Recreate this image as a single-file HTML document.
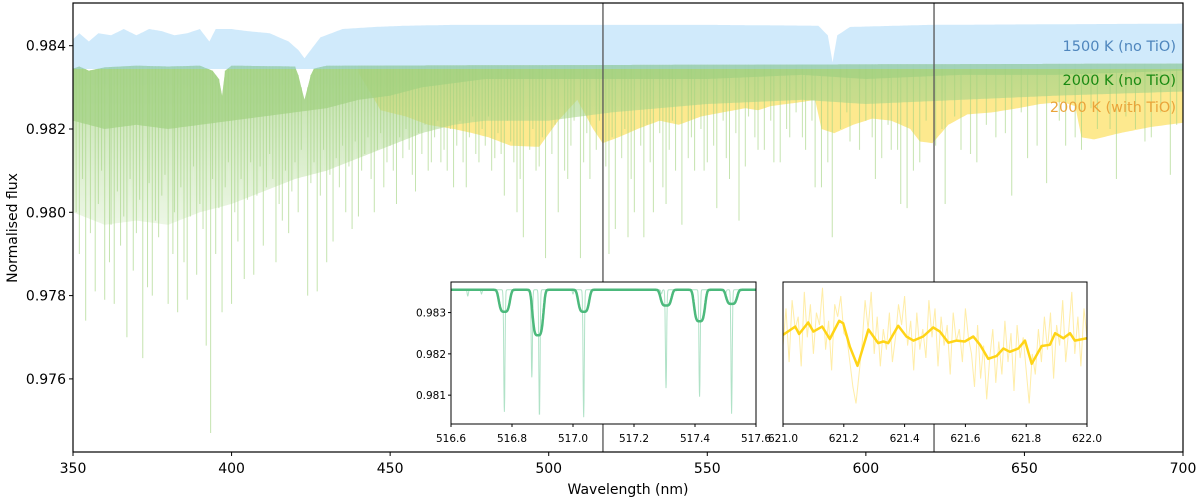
<!DOCTYPE html>
<html><head><meta charset="utf-8"><style>
html,body{margin:0;padding:0;background:#fff;}
svg{display:block;font-family:"DejaVu Sans","Liberation Sans",sans-serif;}
</style></head><body>
<svg id="chart" width="1200" height="499" viewBox="0 0 1200 499" xmlns="http://www.w3.org/2000/svg">
<defs>
<clipPath id="mainclip"><rect x="73" y="3" width="1110" height="449"/></clipPath>
<clipPath id="lclip"><rect x="451" y="282" width="305" height="142"/></clipPath>
<clipPath id="rclip"><rect x="783" y="282" width="304" height="142"/></clipPath>
<linearGradient id="lightgrad" x1="0" y1="0" x2="0" y2="1">
<stop offset="0" stop-color="rgb(168,212,136)" stop-opacity="0.75"/>
<stop offset="1" stop-color="rgb(180,220,150)" stop-opacity="0.25"/>
</linearGradient>
</defs>
<rect x="0" y="0" width="1200" height="499" fill="#fff"/>
<g id="main" clip-path="url(#mainclip)"></g>
<g id="vlines"></g>
<rect x="73" y="3" width="1110" height="449" fill="none" stroke="#000" stroke-width="1.2"/>
<g id="axes"></g>
<text x="0" y="0" transform="translate(17,228) rotate(-90)" text-anchor="middle" font-size="14">Normalised flux</text>
<text x="628" y="494" text-anchor="middle" font-size="14">Wavelength (nm)</text>
<text x="1176" y="51" text-anchor="end" font-size="14.5" fill="#4f86bd">1500 K (no TiO)</text>
<text x="1176" y="85" text-anchor="end" font-size="14.5" fill="#1a8a12">2000 K (no TiO)</text>
<text x="1176" y="112" text-anchor="end" font-size="14.5" fill="#eaa43a">2000 K (with TiO)</text>
<g id="linset"></g>
<g id="rinset"></g>
</svg>
<script>
// ---- main chart data ----
const wlBlue=[350,352,355,358,362,366,370,374,378,382,386,390,393,395,400,405,412,418,421,423,425,428,435,445,455,470,500,550,585,588,589.5,591,595,620,700];
const fBlue=[.98415,.9843,.9841,.9843,.98425,.9844,.98425,.9844,.98435,.98425,.9843,.9844,.9841,.9844,.9844,.98435,.9843,.9841,.9839,.9837,.9839,.9842,.9844,.98445,.98448,.9845,.9845,.9845,.98448,.98425,.9836,.98425,.98445,.9845,.98453];
const wlCont=[350,352,355,360,370,380,390,394,396,397,398,400,420,421,423,425,426,430,700];
const fCont=[.98345,.9835,.9834,.98348,.98352,.9835,.98352,.9834,.9832,.9828,.9834,.98352,.9835,.9833,.9827,.9833,.98345,.98352,.98357];
const wlG=[350,360,370,380,390,400,410,420,430,440,450,460,470,480,500,520,550,580,600,630,660,700];
const gDark=[.9822,.9820,.9821,.9820,.9821,.9822,.9823,.9824,.9825,.9827,.9828,.9830,.9831,.9832,.9832,.9832,.9832,.9833,.9832,.9833,.9833,.9834];
const gLight=[.9800,.9797,.9798,.9797,.9800,.9802,.9805,.9808,.9810,.9813,.9816,.9819,.9821,.9822,.9822,.9824,.9826,.9827,.9826,.9827,.9828,.9829];
const wlY=[440,447,455,462,470,476,481,488,497,503,509,514,517,522,528,535,541,548,555,562,566,570,575,580,584,586,590,596,602,608,614,617,621,626,632,640,648,655,662,666,668,672,680,690,700];
const fY=[.98335,.98245,.9823,.9821,.9820,.9819,.9818,.9816,.98157,.9822,.9827,.9820,.98166,.9818,.9820,.9822,.9821,.9823,.9824,.9825,.98245,.98255,.9826,.98265,.9827,.9820,.9819,.9821,.98225,.9822,.9820,.9817,.98166,.9821,.98235,.9824,.9825,.9826,.98265,.98255,.9818,.98175,.9819,.98205,.98215];
const lineWl=[352,354,357,360,361.5,363,365,367,369,372,373.5,375,377,380,381.5,383,385,386,389,392,393.4,395,397,400,402,404,407,410,414,416,418,421,424,427,430,432,436,438,440,445,448,452,458,462,466,470,474,478,483,486,490,492,496,499,503,506,510,513,519,521,525,527,530,533,537,540,542,546,550,553,557,560,566,571,576,581,584,586,589.4,595,603,608,611,613,617,625,630,635,641,646,651,657,663,668,673,679,685,690,696];
const lineDepth=[.9790,.9774,.9781,.9779,.9788,.9778,.9792,.9770,.9786,.9765,.9782,.9780,.9794,.9778,.9790,.9776,.9788,.9779,.9785,.9768,.9747,.9790,.9776,.9778,.9793,.9784,.9785,.9792,.9788,.9798,.9795,.9800,.9780,.9781,.9788,.9793,.9800,.9796,.9799,.9800,.9806,.9802,.9805,.9810,.9812,.9806,.9806,.9812,.9813,.9804,.9800,.9794,.9810,.9789,.9800,.9808,.9789,.9808,.9790,.9796,.9794,.9800,.9794,.9800,.9802,.9810,.9797,.9810,.9812,.9801,.9808,.9798,.9815,.9812,.9818,.9815,.9806,.9806,.9794,.9817,.9808,.9815,.9802,.9801,.9812,.9802,.9815,.9812,.9818,.9804,.9813,.9807,.9816,.9815,.9820,.9808,.9820,.9818,.9809];
const modWl=[351,353,355.5,358,359,362,364,366,368,370,371,374,376,378,379,382,384,387,388,390,391,394,396,398,399,401,403,405,406,408,409,411,412,413,415,417,419,420,422,425,426,428,429,431,433,434,435,437,439,441,442,443,444,446,447,449,450,451,453,454,455,456,457,459,460,461,463,464,465,467,468,469,471,472,473,475,476,477,479,480,481,482,484,485,487,488,489,491,494,495,497,498,501,502,505,507,508,511,512,515,516,518,520,523,524,526,529,531,532,535,536,538,539,544,545,548,549,552,555,556,559,562,563,565,568,570,573,575,578,580,583,588,592,594,598,600,602,605,607,610,615,619,622,624,628,633,638,644,649,654,661,666,671,677,682,688,693,698];
const modDepth=[.9800,.9808,.9795,.9802,.9810,.9797,.9805,.9799,.9808,.9795,.9803,.9807,.9798,.9804,.9809,.9800,.9806,.9799,.9811,.9802,.9796,.9808,.9801,.9806,.9812,.9800,.9808,.9803,.9812,.9804,.9811,.9806,.9814,.9808,.9802,.9810,.9805,.9812,.9815,.9807,.9812,.9804,.9815,.9809,.9813,.9806,.9816,.9811,.9817,.9810,.9814,.9818,.9808,.9815,.9819,.9812,.9816,.9810,.9818,.9813,.9820,.9815,.9809,.9819,.9814,.9821,.9812,.9818,.9822,.9815,.9810,.9820,.9816,.9822,.9812,.9818,.9823,.9814,.9820,.9816,.9823,.9810,.9819,.9814,.9822,.9817,.9812,.9808,.9815,.9820,.9811,.9818,.9814,.9821,.9810,.9816,.9822,.9812,.9819,.9815,.9822,.9811,.9818,.9813,.9820,.9808,.9816,.9821,.9812,.9819,.9806,.9815,.9822,.9813,.9818,.9820,.9810,.9816,.9822,.9813,.9819,.9811,.9823,.9818,.9815,.9822,.9812,.9820,.9824,.9818,.9822,.9812,.9820,.9824,.9815,.9822,.9818,.9813,.9821,.9815,.9810,.9822,.9816,.9820,.9823,.9814,.9821,.9819,.9824,.9816,.9822,.9818,.9825,.9820,.9823,.9817,.9824,.9821];
const xTicks=[350,400,450,500,550,600,650,700];
const yTicks=[0.976,0.978,0.980,0.982,0.984];
const markerWl=[517.1,621.5];
// ---- left inset data ----
const lxTicks=[516.6,516.8,517.0,517.2,517.4,517.6];
const lyTicks=[0.981,0.982,0.983];
const sharpC=[516.655,516.70,516.775,516.865,516.89,517.0,517.035,517.29,517.305,517.415,517.50,517.52];
const sharpD=[.00015,.0001,.00297,.00213,.00307,.0001,.00310,.0001,.00239,.00260,.0001,.00300];
const broadC=[516.775,516.885,517.035,517.305,517.415,517.52];
const broadD=[.00053,.0011,.00053,.00038,.00076,.00034];
const lCont=0.98355;
// ---- right inset data ----
const rxTicks=[621.0,621.2,621.4,621.6,621.8,622.0];
const smWl=[621.0,621.04,621.053,621.083,621.1,621.129,621.154,621.185,621.198,621.22,621.245,621.281,621.313,621.33,621.346,621.379,621.406,621.429,621.461,621.494,621.516,621.544,621.571,621.598,621.626,621.648,621.675,621.703,621.725,621.746,621.774,621.796,621.818,621.851,621.878,621.895,621.922,621.944,621.96,622.0];
const smF=[.98246,.98266,.98248,.98276,.98254,.98266,.98236,.9828,.98274,.98217,.98171,.98259,.98226,.9823,.98226,.98268,.98242,.98232,.98242,.98264,.98254,.98227,.98232,.9823,.98242,.98222,.98188,.98195,.98213,.98205,.98213,.98232,.98176,.98219,.98222,.98250,.98238,.98250,.98232,.98238];
const rawF=[.9822,.9831,.9818,.9833,.9826,.9829,.9817,.9835,.9824,.9832,.9820,.9830,.9827,.9836,.9821,.9828,.9816,.9832,.9829,.9834,.9825,.9824,.9818,.9812,.9808,.9815,.9822,.9833,.9826,.9835,.9820,.9829,.9817,.9826,.9821,.9830,.9818,.9824,.9832,.9827,.9834,.9822,.9828,.9816,.9830,.9821,.9826,.9819,.9833,.9824,.9831,.9817,.9829,.9822,.9827,.9815,.9830,.9823,.9826,.9818,.9831,.9824,.9820,.9812,.9827,.9814,.9822,.9809,.9819,.9826,.9813,.9823,.9815,.9828,.9818,.9825,.9811,.9827,.9819,.9824,.9816,.9808,.9820,.9815,.9826,.9818,.9829,.9821,.9830,.9814,.9827,.9822,.9833,.9818,.9826,.9835,.9820,.9829,.9817,.9831,.9824];

const NS="http://www.w3.org/2000/svg";
function mk(tag,attrs,parent){const e=document.createElementNS(NS,tag);for(const k in attrs)e.setAttribute(k,attrs[k]);parent.appendChild(e);return e;}
const X=w=>73+(w-350)*(1110/350);
const Y=f=>45.7+(0.984-f)*41650;
function interp(xs,ys,x){if(x<=xs[0])return ys[0];for(let i=1;i<xs.length;i++){if(x<=xs[i]){const t=(x-xs[i-1])/(xs[i]-xs[i-1]);return ys[i-1]+t*(ys[i]-ys[i-1]);}}return ys[ys.length-1];}
const cont=w=>interp(wlCont,fCont,w);

const main=document.getElementById('main');
function band(topFn,botFn,w0,w1,fill,name){let top=[],bot=[];for(let w=w0;w<=w1+1e-9;w+=0.5){top.push(X(w).toFixed(1)+','+Y(topFn(w)).toFixed(1));bot.unshift(X(w).toFixed(1)+','+Y(botFn(w)).toFixed(1));}
const p=mk('polygon',{points:top.concat(bot).join(' '),fill:fill},main);

return p;}
// yellow
band(cont,w=>Math.min(cont(w),interp(wlY,fY,w)),440,700,'#fde98e','tio-band-fill');
// green light & dark
band(cont,w=>interp(wlG,gLight,w),350,700,'url(#lightgrad)','green-light-fill');
band(cont,w=>interp(wlG,gDark,w),350,700,'rgba(160,208,128,0.7)','green-dense-fill');
// spikes
function spikes(ws,ds,col,sw,name){for(let i=0;i<ws.length;i++){const l=mk('line',{x1:X(ws[i]),x2:X(ws[i]),y1:Y(cont(ws[i])),y2:Y(ds[i]),stroke:col,'stroke-width':sw},main);

}}
spikes(modWl,modDepth,'rgba(160,210,125,0.55)',1.1,'absorption-line');
spikes(lineWl,lineDepth,'rgba(165,212,130,0.65)',1,'absorption-line-deep');
// blue
band(w=>interp(wlBlue,fBlue,w),w=>0.98344,350,700,'rgba(150,208,246,0.45)','blue-1500k-fill');

// vertical markers
const vl=document.getElementById('vlines');
markerWl.forEach(w=>{const l=mk('line',{x1:X(w),x2:X(w),y1:3,y2:452,stroke:'rgba(90,90,90,0.75)','stroke-width':1.8},vl);

});

// axes ticks
const ax=document.getElementById('axes');
xTicks.forEach(t=>{mk('line',{x1:X(t),x2:X(t),y1:452,y2:456,stroke:'#000'},ax);
const tx=mk('text',{x:X(t),y:473,'text-anchor':'middle','font-size':14},ax);tx.textContent=t;

});
yTicks.forEach(t=>{mk('line',{x1:69,x2:73,y1:Y(t),y2:Y(t),stroke:'#000'},ax);
const tx=mk('text',{x:66,y:Y(t)+5,'text-anchor':'end','font-size':14},ax);tx.textContent=t.toFixed(3);

});

// ---- left inset ----
const li=document.getElementById('linset');
const LX=w=>451+(w-516.6)*305;
const IY=f=>282+(0.98374-f)*41300;
mk('rect',{x:451,y:282,width:305,height:142,fill:'#fff'},li);
const lg=mk('g',{'clip-path':'url(#lclip)'},li);
let sp=[],bp=[];
for(let w=516.6;w<=517.6001;w+=0.0008){let fs=lCont,fb=lCont;
for(let i=0;i<sharpC.length;i++)fs-=sharpD[i]*Math.exp(-Math.pow((w-sharpC[i])/0.0028,2));
for(let i=0;i<broadC.length;i++)fb-=broadD[i]*Math.exp(-Math.pow((w-broadC[i])/0.02,4));
sp.push(LX(w).toFixed(1)+','+IY(fs).toFixed(1));bp.push(LX(w).toFixed(1)+','+IY(fb).toFixed(1));}
const lsh=mk('polyline',{points:sp.join(' '),fill:'none',stroke:'rgba(80,190,130,0.45)','stroke-width':1},lg);


const lsm=mk('polyline',{points:bp.join(' '),fill:'none',stroke:'#4cb97c','stroke-width':2.5},lg);


mk('rect',{x:451,y:282,width:305,height:142,fill:'none',stroke:'#000','stroke-width':1},li);
lxTicks.forEach(t=>{mk('line',{x1:LX(t),x2:LX(t),y1:424,y2:427,stroke:'#000'},li);
const tx=mk('text',{x:LX(t),y:442,'text-anchor':'middle','font-size':10.5},li);tx.textContent=t.toFixed(1);

});
lyTicks.forEach(t=>{mk('line',{x1:448,x2:451,y1:IY(t),y2:IY(t),stroke:'#000'},li);
const tx=mk('text',{x:446,y:IY(t)+4,'text-anchor':'end','font-size':10.5},li);tx.textContent=t.toFixed(3);

});

// ---- right inset ----
const ri=document.getElementById('rinset');
const RX=w=>783+(w-621)*304;
mk('rect',{x:783,y:282,width:304,height:142,fill:'#fff'},ri);
const rg=mk('g',{'clip-path':'url(#rclip)'},ri);
const rp=rawF.map((f,i)=>RX(621+i*0.01).toFixed(1)+','+IY(f).toFixed(1));
const rr=mk('polyline',{points:rp.join(' '),fill:'none',stroke:'rgba(255,220,80,0.5)','stroke-width':1},rg);


const spp=smWl.map((w,i)=>RX(w).toFixed(1)+','+IY(smF[i]).toFixed(1));
const rs=mk('polyline',{points:spp.join(' '),fill:'none',stroke:'#ffd416','stroke-width':2.5,'stroke-linejoin':'round'},rg);


mk('rect',{x:783,y:282,width:304,height:142,fill:'none',stroke:'#000','stroke-width':1},ri);
rxTicks.forEach(t=>{mk('line',{x1:RX(t),x2:RX(t),y1:424,y2:427,stroke:'#000'},ri);
const tx=mk('text',{x:RX(t),y:442,'text-anchor':'middle','font-size':10.5},ri);tx.textContent=t.toFixed(1);

});
</script>
</body></html>
